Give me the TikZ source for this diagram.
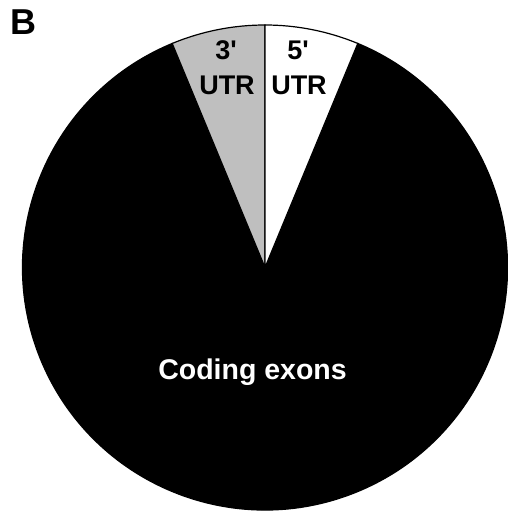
\documentclass[tikz,border=0pt]{standalone}
\usepackage{fontspec}
\setmainfont{Liberation Sans}[Ligatures=TeXOff]
\begin{document}
\begin{tikzpicture}[x=1pt,y=1pt,
    slice/.style={draw=black,line width=1.2pt},
    utr/.style={font=\bfseries\fontsize{27}{29}\selectfont,anchor=base,inner sep=0pt}]
  \useasboundingbox (0,0) rectangle (508,511);
  \begin{scope}[shift={(265,243.5)}]
    \filldraw[slice,fill=black] (0,0) -- (112.5:242.5)
      arc[start angle=112.5,end angle=427.5,radius=242.5] -- cycle;
    \filldraw[slice,fill=gray!50] (0,0) -- (90:242.5)
      arc[start angle=90,end angle=112.5,radius=242.5] -- cycle;
    \filldraw[slice,fill=white] (0,0) -- (67.5:242.5)
      arc[start angle=67.5,end angle=90,radius=242.5] -- cycle;
    \node[utr] (three) at (-39,207.5) {3'};
    \node[utr] (threeutr) at (-38,172.5) {UTR};
    \node[utr] (five) at (33,207.5) {5'};
    \node[utr] (fiveutr) at (34,172.5) {UTR};
    \node[font=\bfseries\fontsize{28.5}{30}\selectfont,text=white,anchor=base,inner sep=0pt]
      (coding) at (-12.5,-112.5) {Coding exons};
  \end{scope}
  \node[font=\bfseries\fontsize{36}{38}\selectfont,anchor=base west,inner sep=0pt]
    (panel) at (10,476) {B};
\end{tikzpicture}
\end{document}
